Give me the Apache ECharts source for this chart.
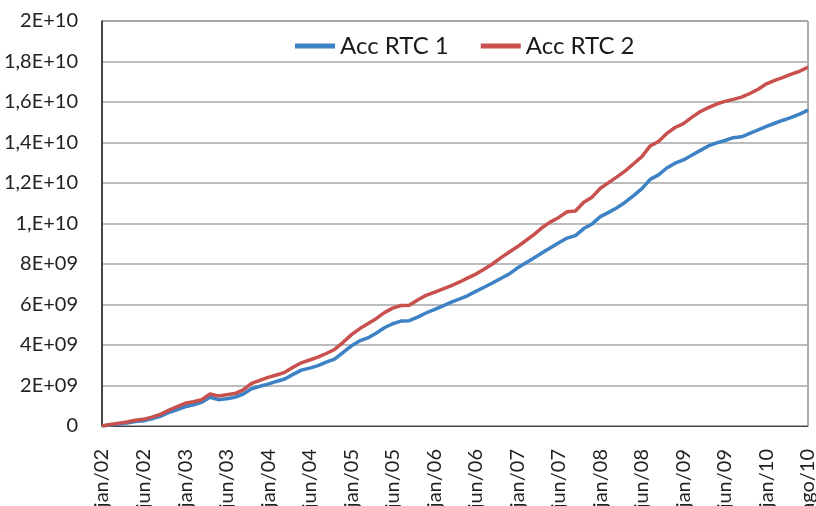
<!DOCTYPE html>
<html>
<head>
<meta charset="utf-8">
<script src="https://cdn.jsdelivr.net/npm/echarts@6/dist/echarts.min.js"></script>
<style>
  html, body { margin: 0; padding: 0; background: #fff; }
  #chart { width: 816px; height: 506px; }
</style>
</head>
<body>
<div id="chart"></div>
<script>
// rótulos do eixo x (um a cada 5 pontos)
const xTickLabels = ['jan/02', 'jun/02', 'jan/03', 'jun/03', 'jan/04', 'jun/04', 'jan/05', 'jun/05',
  'jan/06', 'jun/06', 'jan/07', 'jun/07', 'jan/08', 'jun/08', 'jan/09', 'jun/09', 'jan/10', 'ago/10'];
const labelStep = 5;

// rótulos do eixo y (valores em 1E9)
const yTickLabels = ['0', '2E+09', '4E+09', '6E+09', '8E+09', '1,E+10', '1,2E+10', '1,4E+10', '1,6E+10', '1,8E+10', '2E+10'];

// valores acumulados, em bilhões
const accRtc1 = [
  0.0, 0.05, 0.1, 0.15, 0.22, 0.26, 0.36, 0.48, 0.66, 0.8,
  0.95, 1.05, 1.17, 1.42, 1.3, 1.34, 1.42, 1.58, 1.84, 1.96,
  2.07, 2.2, 2.32, 2.55, 2.76, 2.86, 2.98, 3.15, 3.3, 3.62,
  3.95, 4.2, 4.35, 4.58, 4.85, 5.05, 5.18, 5.2, 5.38, 5.58,
  5.75, 5.92, 6.1, 6.26, 6.43, 6.65, 6.85, 7.06, 7.28, 7.5,
  7.8, 8.05, 8.3, 8.55, 8.8, 9.05, 9.28, 9.4, 9.75, 9.98,
  10.34, 10.55, 10.78, 11.05, 11.38, 11.72, 12.18, 12.4, 12.74, 12.98,
  13.14, 13.37, 13.6, 13.83, 13.98, 14.1, 14.24, 14.28, 14.45, 14.62,
  14.8, 14.95, 15.1, 15.24, 15.4, 15.6
];
const accRtc2 = [
  0.0, 0.07, 0.14, 0.2, 0.28, 0.33, 0.44, 0.57, 0.77, 0.95,
  1.12, 1.2, 1.3, 1.58, 1.48, 1.54, 1.6, 1.78, 2.1, 2.25,
  2.4, 2.52, 2.65, 2.9, 3.12, 3.26, 3.4, 3.58, 3.78, 4.12,
  4.5, 4.8, 5.05, 5.3, 5.6, 5.82, 5.95, 5.96, 6.22, 6.45,
  6.6, 6.76, 6.92, 7.1, 7.3, 7.5, 7.74, 8.0, 8.3, 8.58,
  8.85, 9.15, 9.45, 9.8, 10.08, 10.3, 10.58, 10.62, 11.05, 11.3,
  11.74, 12.02, 12.3, 12.6, 12.95, 13.3, 13.83, 14.05, 14.45, 14.74,
  14.93, 15.24, 15.52, 15.72, 15.9, 16.03, 16.13, 16.24, 16.42, 16.63,
  16.9, 17.07, 17.22, 17.38, 17.52, 17.72
];

const categories = accRtc1.map((v, i) => (i % labelStep === 0 ? xTickLabels[i / labelStep] : ''));

const fontFamily = 'Lato, "Open Sans", sans-serif';

const chart = echarts.init(document.getElementById('chart'), null, { renderer: 'canvas' });

chart.setOption({
  animation: false,
  textStyle: { fontFamily: fontFamily },
  grid: {
    left: 102,
    right: 8,
    top: 21,
    bottom: 80,
    outerBoundsMode: 'none',
    containLabel: false,
    show: true,
    borderColor: '#595959',
    borderWidth: 1
  },
  legend: {
    left: 290,
    top: 29,
    itemWidth: 40,
    itemHeight: 5,
    itemGap: 32,
    icon: 'rect',
    textStyle: { fontSize: 24, color: '#1a1a1a', fontFamily: fontFamily },
    data: ['Acc RTC 1', 'Acc RTC 2']
  },
  xAxis: {
    type: 'category',
    data: categories,
    boundaryGap: false,
    axisLine: { lineStyle: { color: '#404040', width: 1 } },
    axisTick: { show: false },
    axisLabel: {
      interval: labelStep - 1,
      rotate: 90,
      margin: 23,
      fontSize: 20,
      color: '#222',
      fontFamily: fontFamily
    }
  },
  yAxis: {
    type: 'value',
    min: 0,
    max: 20,
    interval: 2,
    axisLine: { show: true, lineStyle: { color: '#262626', width: 1.5 } },
    axisTick: { show: false },
    splitLine: { lineStyle: { color: '#a6a6a6', width: 1.5 } },
    axisLabel: {
      margin: 24,
      fontSize: 20,
      color: '#222',
      fontFamily: fontFamily,
      formatter: v => yTickLabels[Math.round(v / 2)]
    }
  },
  series: [
    {
      name: 'Acc RTC 1',
      type: 'line',
      data: accRtc1,
      showSymbol: false,
      color: '#3C82C4',
      lineStyle: { width: 3.5, color: '#3C82C4' }
    },
    {
      name: 'Acc RTC 2',
      type: 'line',
      data: accRtc2,
      showSymbol: false,
      color: '#C8504D',
      lineStyle: { width: 3.5, color: '#C8504D' }
    }
  ]
});
</script>
</body>
</html>
